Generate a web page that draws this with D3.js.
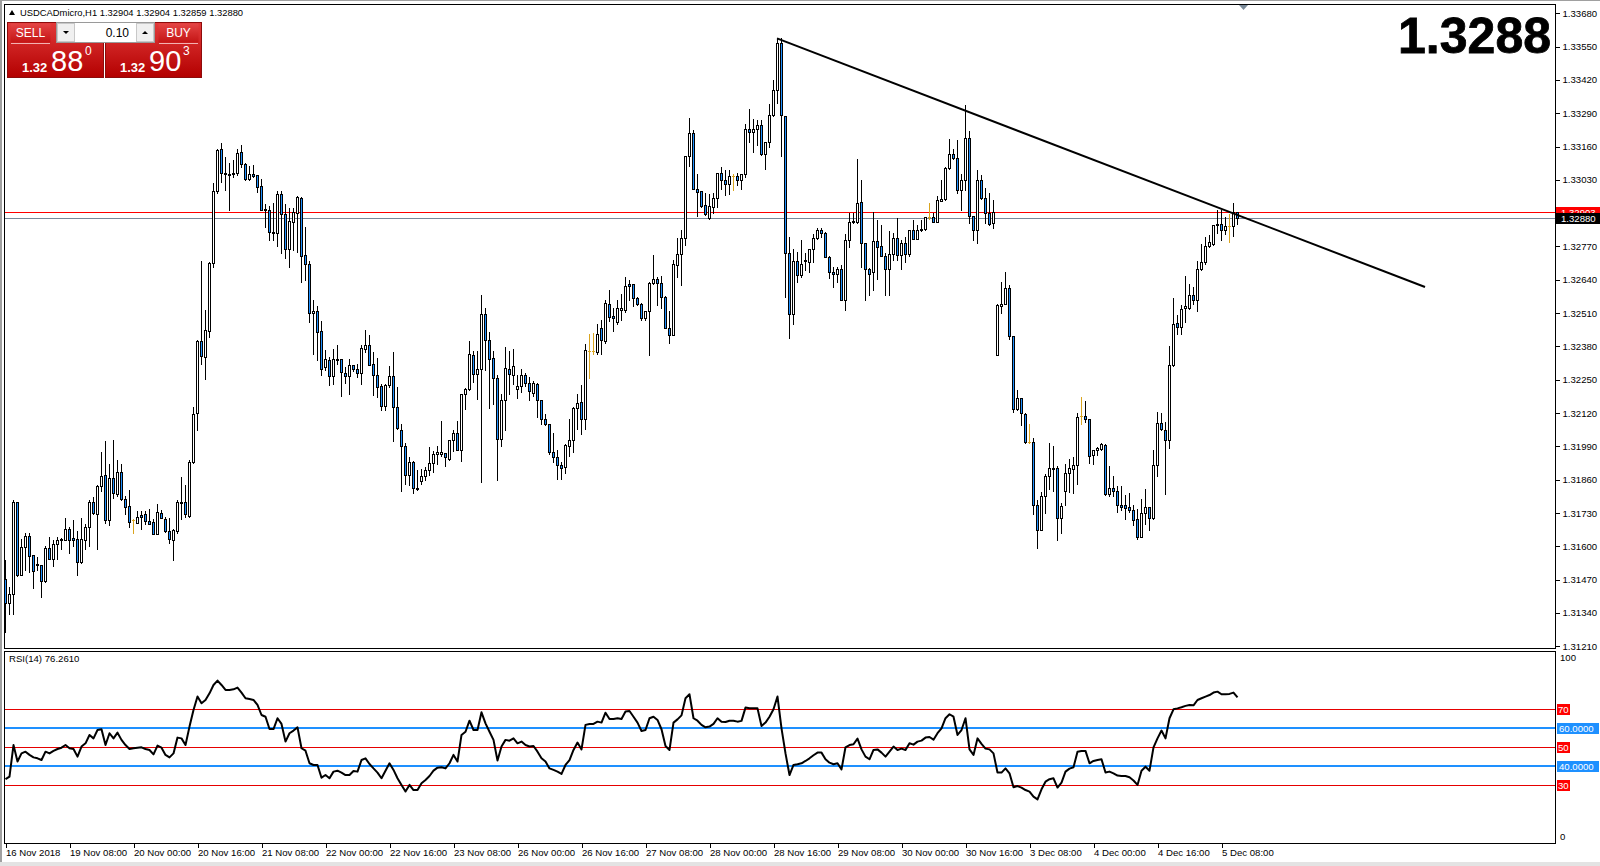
<!DOCTYPE html>
<html><head><meta charset="utf-8">
<script src="https://cdnjs.cloudflare.com/ajax/libs/d3/7.8.5/d3.min.js"></script>
<style>
html,body{margin:0;padding:0;background:#fff;overflow:hidden;}
svg{display:block;font-family:"Liberation Sans",Arial,sans-serif;}
</style></head><body>
<svg id="c" width="1600" height="866"></svg>
<script>
// ---------------- DATA ----------------
const symbolLabel = "USDCADmicro,H1";
const headerOHLC = ["1.32904","1.32904","1.32859","1.32880"];
const bidPrice = 1.32880, askPrice = 1.32903;
const bigPrice = "1.3288";
const sellQuote = ["1.32","88","0"], buyQuote = ["1.32","90","3"], lotSize = "0.10";
const priceTicks = [1.31210,1.31340,1.31470,1.31600,1.31730,1.31860,1.31990,1.32120,1.32250,1.32380,
  1.32510,1.32640,1.32770,1.32900,1.33030,1.33160,1.33290,1.33420,1.33550,1.33680];
const timeLabels = ["16 Nov 2018","19 Nov 08:00","20 Nov 00:00","20 Nov 16:00","21 Nov 08:00","22 Nov 00:00",
  "22 Nov 16:00","23 Nov 08:00","26 Nov 00:00","26 Nov 16:00","27 Nov 08:00","28 Nov 00:00","28 Nov 16:00",
  "29 Nov 08:00","30 Nov 00:00","30 Nov 16:00","3 Dec 08:00","4 Dec 00:00","4 Dec 16:00","5 Dec 08:00"];
const timeLabelBars = [0,16,32,48,64,80,96,112,128,144,160,176,192,208,224,240,256,272,288,304];

const open = [
1.31474,1.31379,1.31413,1.31773,1.31487,1.31598,1.31639,1.31565,1.31532,1.31526,
1.31465,1.31595,1.31552,1.31607,1.31626,1.31626,1.31669,1.31633,1.31630,1.31539,
1.31626,1.31676,1.31771,1.31724,1.31834,1.31877,1.31702,1.31868,1.31803,1.31889,
1.31784,1.31756,1.31702,1.31691,1.31721,1.31724,1.31700,1.31694,1.31646,1.31728,
1.31708,1.31659,1.31626,1.31659,1.31771,1.31771,1.31720,1.31929,1.32121,1.32402,
1.32339,1.32441,1.32704,1.32986,1.33150,1.33057,1.33050,1.33051,1.33055,1.33137,
1.33091,1.33033,1.33051,1.33048,1.33005,1.32914,1.32914,1.32821,1.32821,1.32973,
1.32895,1.32762,1.32866,1.32899,1.32961,1.32736,1.32700,1.32512,1.32520,1.32439,
1.32298,1.32326,1.32265,1.32329,1.32329,1.32278,1.32265,1.32306,1.32291,1.32278,
1.32369,1.32387,1.32313,1.32270,1.32225,1.32148,1.32231,1.32264,1.32144,1.32053,
1.31991,1.31877,1.31927,1.31829,1.31855,1.31874,1.31899,1.31925,1.31961,1.31959,
1.31964,1.31942,1.32013,1.32043,1.31977,1.32193,1.32213,1.32345,1.32274,1.32291,
1.32505,1.32406,1.32336,1.32258,1.32020,1.32172,1.32293,1.32270,1.32215,1.32224,
1.32267,1.32236,1.32200,1.32235,1.32170,1.32098,1.32079,1.31968,1.31948,1.31916,
1.31909,1.31991,1.32013,1.32141,1.32163,1.32098,1.32362,1.32361,1.32358,1.32453,
1.32400,1.32547,1.32497,1.32476,1.32521,1.32521,1.32623,1.32623,1.32567,1.32547,
1.32489,1.32517,1.32629,1.32645,1.32629,1.32573,1.32452,1.32426,1.32699,1.32740,
1.32805,1.33122,1.33211,1.32993,1.32986,1.32931,1.32882,1.32924,1.32961,1.33058,
1.33031,1.33013,1.33044,1.33044,1.33031,1.33052,1.33228,1.33215,1.33230,1.33246,
1.33129,1.33176,1.33285,1.33382,1.33566,1.33280,1.32746,1.32508,1.32712,1.32660,
1.32714,1.32710,1.32762,1.32805,1.32836,1.32823,1.32730,1.32671,1.32661,1.32684,
1.32563,1.32795,1.32865,1.32866,1.32942,1.32782,1.32684,1.32671,1.32791,1.32771,
1.32733,1.32684,1.32740,1.32805,1.32736,1.32785,1.32742,1.32834,1.32798,1.32834,
1.32840,1.32886,1.32886,1.32866,1.32948,1.32957,1.33078,1.33129,1.33117,1.32992,
1.33029,1.33194,1.32890,1.32834,1.33029,1.32961,1.32901,1.32860,1.32345,1.32536,
1.32547,1.32609,1.32420,1.32137,1.32180,1.32117,1.32007,1.32007,1.31760,1.31665,
1.31795,1.31873,1.31907,1.31907,1.31711,1.31816,1.31887,1.31903,1.31916,1.32107,
1.32107,1.32098,1.31957,1.31977,1.31981,1.31996,1.31803,1.31829,1.31816,1.31763,
1.31760,1.31753,1.31743,1.31708,1.31636,1.31730,1.31753,1.31710,1.31918,1.32081,
1.32055,1.32016,1.32306,1.32471,1.32456,1.32531,1.32531,1.32582,1.32562,1.32683,
1.32709,1.32770,1.32781,1.32852,1.32859,1.32835,1.32848,1.32848,1.32904];
const high = [
1.31546,1.31441,1.31780,1.31773,1.31630,1.31650,1.31650,1.31565,1.31559,1.31526,
1.31600,1.31637,1.31624,1.31637,1.31634,1.31712,1.31676,1.31704,1.31659,1.31712,
1.31685,1.31780,1.31793,1.31838,1.31968,1.32010,1.31923,1.32014,1.31936,1.31923,
1.31795,1.31821,1.31706,1.31738,1.31738,1.31738,1.31747,1.31707,1.31764,1.31743,
1.31715,1.31712,1.31669,1.31782,1.31871,1.31838,1.31938,1.32144,1.32404,1.32713,
1.32521,1.32710,1.33018,1.33150,1.33172,1.33120,1.33094,1.33107,1.33152,1.33165,
1.33094,1.33083,1.33087,1.33048,1.33035,1.32935,1.32927,1.32938,1.32986,1.32986,
1.32935,1.32922,1.32922,1.32966,1.32964,1.32847,1.32713,1.32563,1.32537,1.32479,
1.32365,1.32339,1.32368,1.32387,1.32329,1.32298,1.32329,1.32309,1.32313,1.32385,
1.32443,1.32424,1.32359,1.32333,1.32235,1.32235,1.32303,1.32359,1.32222,1.32079,
1.32004,1.31949,1.31933,1.31899,1.31900,1.31909,1.31988,1.31971,1.31990,1.32088,
1.31964,1.32013,1.32053,1.32088,1.32196,1.32218,1.32400,1.32362,1.32362,1.32579,
1.32531,1.32436,1.32362,1.32267,1.32196,1.32378,1.32361,1.32369,1.32267,1.32291,
1.32276,1.32261,1.32245,1.32239,1.32170,1.32118,1.32079,1.32043,1.31974,1.31929,
1.32000,1.32098,1.32144,1.32196,1.32231,1.32388,1.32430,1.32434,1.32469,1.32482,
1.32560,1.32602,1.32531,1.32560,1.32584,1.32649,1.32641,1.32623,1.32571,1.32550,
1.32517,1.32632,1.32736,1.32651,1.32654,1.32576,1.32517,1.32719,1.32805,1.32833,
1.33122,1.33273,1.33226,1.33052,1.32986,1.32978,1.32973,1.32977,1.33058,1.33081,
1.33068,1.33068,1.33052,1.33055,1.33052,1.33247,1.33308,1.33269,1.33265,1.33263,
1.33176,1.33325,1.33419,1.33581,1.33585,1.33280,1.32807,1.32762,1.32749,1.32797,
1.32745,1.32762,1.32818,1.32843,1.32843,1.32827,1.32733,1.32688,1.32690,1.32697,
1.32818,1.32899,1.32899,1.33113,1.33031,1.32782,1.32687,1.32903,1.32875,1.32853,
1.32745,1.32830,1.32824,1.32883,1.32795,1.32808,1.32836,1.32873,1.32853,1.32873,
1.32886,1.32938,1.32899,1.32966,1.33029,1.33081,1.33191,1.33152,1.33187,1.33051,
1.33321,1.33221,1.32890,1.33068,1.33048,1.32999,1.32977,1.32953,1.32547,1.32631,
1.32670,1.32621,1.32420,1.32211,1.32180,1.32120,1.32076,1.32024,1.31782,1.31812,
1.31883,1.32003,1.31990,1.31912,1.31770,1.31920,1.31942,1.31948,1.32120,1.32182,
1.32167,1.32098,1.31977,1.31988,1.32004,1.32000,1.31912,1.31873,1.31835,1.31834,
1.31799,1.31808,1.31760,1.31747,1.31786,1.31825,1.31753,1.31974,1.32124,1.32120,
1.32085,1.32380,1.32570,1.32501,1.32540,1.32653,1.32625,1.32612,1.32713,1.32781,
1.32807,1.32813,1.32852,1.32911,1.32911,1.32885,1.32895,1.32940,1.32904];
const low = [
1.31265,1.31337,1.31337,1.31483,1.31487,1.31507,1.31500,1.31438,1.31507,1.31402,
1.31461,1.31552,1.31522,1.31552,1.31591,1.31626,1.31574,1.31600,1.31487,1.31535,
1.31591,1.31600,1.31724,1.31590,1.31816,1.31689,1.31683,1.31789,1.31795,1.31780,
1.31725,1.31676,1.31652,1.31691,1.31669,1.31685,1.31685,1.31646,1.31646,1.31711,
1.31656,1.31613,1.31548,1.31652,1.31708,1.31715,1.31715,1.31925,1.32053,1.32313,
1.32251,1.32417,1.32691,1.32977,1.33020,1.32990,1.32912,1.33042,1.33048,1.33081,
1.33029,1.33029,1.33042,1.32983,1.32912,1.32847,1.32797,1.32795,1.32771,1.32743,
1.32726,1.32691,1.32756,1.32749,1.32632,1.32639,1.32476,1.32352,1.32326,1.32270,
1.32287,1.32229,1.32233,1.32313,1.32187,1.32239,1.32196,1.32285,1.32261,1.32235,
1.32359,1.32307,1.32190,1.32183,1.32131,1.32131,1.32222,1.32011,1.32057,1.31816,
1.31842,1.31838,1.31806,1.31821,1.31842,1.31860,1.31877,1.31890,1.31920,1.31952,
1.31913,1.31935,1.31972,1.31977,1.31933,1.32137,1.32209,1.32241,1.32176,1.31851,
1.32287,1.32141,1.32157,1.31857,1.31991,1.32055,1.32193,1.32232,1.32180,1.32202,
1.32224,1.32172,1.32185,1.32105,1.32076,1.32072,1.31961,1.31929,1.31864,1.31864,
1.31886,1.31952,1.31968,1.32059,1.32040,1.32059,1.32258,1.32349,1.32352,1.32349,
1.32395,1.32479,1.32440,1.32469,1.32482,1.32515,1.32563,1.32537,1.32541,1.32485,
1.32482,1.32346,1.32625,1.32541,1.32528,1.32450,1.32394,1.32424,1.32651,1.32619,
1.32775,1.33083,1.32993,1.32889,1.32924,1.32892,1.32879,1.32901,1.32924,1.32996,
1.32970,1.32976,1.32990,1.33009,1.32996,1.33042,1.33178,1.33139,1.33165,1.33127,
1.33074,1.33159,1.33278,1.33328,1.33124,1.32573,1.32411,1.32469,1.32632,1.32651,
1.32677,1.32671,1.32710,1.32800,1.32808,1.32730,1.32648,1.32612,1.32632,1.32563,
1.32524,1.32766,1.32860,1.32860,1.32688,1.32560,1.32580,1.32599,1.32645,1.32733,
1.32580,1.32580,1.32716,1.32716,1.32684,1.32710,1.32732,1.32798,1.32798,1.32830,
1.32834,1.32879,1.32866,1.32866,1.32946,1.32953,1.33074,1.33113,1.32977,1.32912,
1.32990,1.32862,1.32795,1.32782,1.32957,1.32862,1.32852,1.32843,1.32345,1.32510,
1.32545,1.32410,1.32124,1.32133,1.32072,1.32004,1.32004,1.31724,1.31594,1.31665,
1.31730,1.31825,1.31815,1.31626,1.31652,1.31760,1.31812,1.31808,1.31844,1.32078,
1.32085,1.31925,1.31922,1.31957,1.31977,1.31799,1.31795,1.31795,1.31734,1.31743,
1.31708,1.31733,1.31682,1.31629,1.31636,1.31685,1.31665,1.31707,1.31873,1.32052,
1.31804,1.31985,1.32302,1.32427,1.32430,1.32475,1.32527,1.32547,1.32518,1.32679,
1.32702,1.32766,1.32777,1.32822,1.32796,1.32820,1.32787,1.32811,1.32859];
const close = [
1.31379,1.31413,1.31773,1.31487,1.31598,1.31639,1.31562,1.31504,1.31528,1.31465,
1.31595,1.31552,1.31607,1.31626,1.31628,1.31669,1.31626,1.31626,1.31539,1.31630,
1.31676,1.31771,1.31728,1.31834,1.31873,1.31702,1.31868,1.31806,1.31889,1.31786,
1.31754,1.31695,1.31702,1.31715,1.31716,1.31700,1.31687,1.31646,1.31732,1.31711,
1.31659,1.31630,1.31663,1.31771,1.31773,1.31724,1.31929,1.32118,1.32402,1.32343,
1.32443,1.32706,1.32986,1.33146,1.33055,1.33051,1.33054,1.33057,1.33133,1.33090,
1.33033,1.33051,1.33046,1.33003,1.32914,1.32916,1.32825,1.32827,1.32973,1.32895,
1.32762,1.32869,1.32905,1.32964,1.32734,1.32700,1.32511,1.32520,1.32437,1.32290,
1.32329,1.32265,1.32329,1.32331,1.32281,1.32265,1.32306,1.32290,1.32278,1.32372,
1.32387,1.32309,1.32270,1.32220,1.32148,1.32231,1.32264,1.32144,1.32060,1.31991,
1.31877,1.31927,1.31826,1.31824,1.31874,1.31899,1.31925,1.31961,1.31969,1.31967,
1.31948,1.32013,1.32043,1.31977,1.32193,1.32213,1.32349,1.32274,1.32291,1.32505,
1.32406,1.32332,1.32258,1.32020,1.32170,1.32297,1.32274,1.32302,1.32224,1.32267,
1.32239,1.32205,1.32236,1.32170,1.32098,1.32079,1.31968,1.31948,1.31919,1.31907,
1.31994,1.32016,1.32141,1.32161,1.32098,1.32365,1.32362,1.32361,1.32430,1.32404,
1.32551,1.32495,1.32491,1.32528,1.32528,1.32615,1.32616,1.32567,1.32547,1.32489,
1.32517,1.32629,1.32645,1.32629,1.32573,1.32452,1.32426,1.32703,1.32740,1.32805,
1.33122,1.33211,1.32995,1.32983,1.32928,1.32898,1.32927,1.32961,1.33058,1.33031,
1.33013,1.33044,1.33044,1.33031,1.33052,1.33228,1.33215,1.33230,1.33246,1.33129,
1.33176,1.33285,1.33382,1.33566,1.33282,1.32746,1.32508,1.32712,1.32660,1.32703,
1.32719,1.32762,1.32805,1.32836,1.32823,1.32730,1.32671,1.32661,1.32681,1.32563,
1.32795,1.32865,1.32869,1.32938,1.32782,1.32684,1.32661,1.32791,1.32769,1.32733,
1.32684,1.32742,1.32805,1.32736,1.32785,1.32742,1.32834,1.32798,1.32834,1.32840,
1.32886,1.32886,1.32866,1.32951,1.32957,1.33078,1.33129,1.33117,1.32992,1.33029,
1.33194,1.32890,1.32834,1.33029,1.32961,1.32899,1.32856,1.32903,1.32540,1.32547,
1.32609,1.32420,1.32137,1.32180,1.32120,1.32007,1.32007,1.31763,1.31665,1.31795,
1.31873,1.31907,1.31905,1.31711,1.31756,1.31887,1.31907,1.31916,1.32104,1.32107,
1.32096,1.31951,1.31977,1.31985,1.31998,1.31803,1.31829,1.31816,1.31762,1.31753,
1.31751,1.31743,1.31704,1.31636,1.31730,1.31753,1.31710,1.31918,1.32081,1.32059,
1.32013,1.32306,1.32469,1.32456,1.32527,1.32536,1.32582,1.32562,1.32683,1.32709,
1.32770,1.32787,1.32852,1.32859,1.32835,1.32848,1.32848,1.32904,1.32880];

const rsi = [
33.2,34.6,51.2,42.5,46.8,47.7,46.0,44.7,44.2,43.3,
47.7,46.8,48.1,49.1,49.8,51.2,49.5,49.1,45.1,50.4,
52.1,56.5,54.7,59.1,59.5,51.2,57.4,54.7,57.7,53.9,
51.2,49.1,49.5,49.8,50.0,49.1,48.6,46.3,50.9,49.8,
46.0,44.7,46.8,55.1,54.7,51.2,60.9,69.6,76.7,73.2,
74.9,78.4,82.8,85.1,82.8,80.2,80.2,80.5,81.4,78.8,
75.8,75.4,74.9,72.3,67.0,66.1,59.6,59.6,65.3,62.3,
53.0,57.4,58.8,60.5,49.5,48.2,41.6,40.7,40.7,34.0,
35.4,33.7,37.2,37.7,36.7,35.4,35.4,37.5,37.2,43.3,
44.2,41.2,38.9,36.7,33.7,37.7,41.6,38.1,33.7,30.2,
26.7,30.2,27.5,27.5,31.1,32.8,34.9,37.7,39.3,39.5,
38.9,41.6,46.0,42.5,56.5,58.2,64.0,59.1,59.1,68.4,
62.6,58.2,53.9,43.0,50.4,53.9,53.5,54.7,52.1,53.0,
51.2,50.4,50.7,47.7,44.2,42.5,38.9,38.1,37.2,36.0,
40.7,43.3,48.6,52.5,48.9,61.8,62.3,62.3,63.5,63.0,
68.2,64.9,64.9,65.3,64.9,68.8,69.1,66.1,63.0,58.6,
59.1,65.3,66.1,64.4,59.5,50.7,48.6,63.0,64.7,66.8,
75.8,77.9,65.3,64.0,61.8,60.5,60.9,62.3,65.3,63.5,
63.3,64.0,64.0,63.5,63.9,70.9,70.5,70.5,70.5,61.2,
63.0,66.1,70.0,76.7,60.0,46.8,35.4,40.7,41.1,41.6,
42.8,44.2,45.8,47.2,47.2,43.7,41.9,41.1,41.6,38.4,
50.0,51.2,51.6,54.6,48.9,45.1,43.7,48.6,48.9,47.2,
45.1,47.7,50.4,48.6,49.3,48.6,52.1,51.4,53.0,53.5,
55.1,55.4,54.0,57.4,60.0,65.3,67.4,66.1,56.5,59.1,
65.3,48.9,46.0,54.7,51.8,49.3,48.9,46.8,36.7,36.7,
38.9,36.3,29.0,29.6,28.8,27.5,26.7,24.0,22.6,27.9,
31.9,33.2,33.7,28.8,31.4,37.2,38.8,39.5,47.7,48.1,
48.1,41.6,42.8,43.3,43.7,36.7,37.2,36.3,35.1,34.9,
34.9,34.2,32.5,30.2,37.7,39.8,37.7,50.0,54.7,58.8,
54.7,65.3,70.0,70.5,71.1,71.8,72.3,72.1,74.9,75.8,
76.7,77.5,78.8,79.3,77.9,77.9,78.1,78.8,76.261];
const rsiLabel = "RSI(14) 76.2610";
const rsiRedLevels = [70,50,30];
const rsiBlueLevels = [60,40];
const trendBars = [193,355];
const trendPrices = [1.33582,1.32612];

// ---------------- LAYOUT ----------------
const L=4, R=1555, PT=4, PB=648, RT=651, RB=843;
const BULL="#ffffff", BEAR="#1e90ff", DOJI="#daa520", RED="#e60000", BLUE="#1e90ff";
const FS=9.6;
const svg = d3.select("#c");

const x = d3.scaleLinear().domain([0,308]).range([5,1237]);
const y = d3.scaleLinear().domain([1.31210,1.33680]).range([646.2,13.3]);
const yr = d3.scaleLinear().domain([0,100]).range([842.3,652.3]);

const defs = svg.append("defs");
defs.append("clipPath").attr("id","clipP").append("rect").attr("x",L+1).attr("y",PT+1).attr("width",R-L-1).attr("height",PB-PT-1);
defs.append("clipPath").attr("id","clipR").append("rect").attr("x",L+1).attr("y",RT+1).attr("width",R-L-1).attr("height",RB-RT-1);
const grad = (id,c1,c2)=>{const g=defs.append("linearGradient").attr("id",id).attr("x1",0).attr("y1",0).attr("x2",0).attr("y2",1);
  g.append("stop").attr("offset","0%").attr("stop-color",c1); g.append("stop").attr("offset","100%").attr("stop-color",c2);};
grad("gRed","#e23a3a","#b30000");
grad("gBtn","#e44545","#c41414");

// window frame
svg.append("rect").attr("x",0).attr("y",0).attr("width",1600).attr("height",866).attr("fill","#fff");
svg.append("rect").attr("x",0).attr("y",0).attr("width",2).attr("height",866).attr("fill","#a0a0a0");
svg.append("rect").attr("x",0).attr("y",0).attr("width",1600).attr("height",1).attr("fill","#a0a0a0");
svg.append("rect").attr("x",0).attr("y",862).attr("width",1600).attr("height",4).attr("fill","#e3e3e3");

// panels borders
const crisp = svg.append("g").attr("shape-rendering","crispEdges");
crisp.append("rect").attr("x",L+0.5).attr("y",PT+0.5).attr("width",R-L).attr("height",PB-PT).attr("fill","none").attr("stroke","#000");
crisp.append("rect").attr("x",L+0.5).attr("y",RT+0.5).attr("width",R-L).attr("height",RB-RT).attr("fill","none").attr("stroke","#000");

// bid / ask lines
crisp.append("line").attr("x1",L+1).attr("x2",R).attr("y1",Math.round(y(askPrice))+0.5).attr("y2",Math.round(y(askPrice))+0.5).attr("stroke","#ff0000");
crisp.append("line").attr("x1",L+1).attr("x2",R).attr("y1",Math.round(y(bidPrice))+0.5).attr("y2",Math.round(y(bidPrice))+0.5).attr("stroke","#778899");

// candles
const bars = close.map((c,i)=>({i,o:open[i],h:high[i],l:low[i],c}));
const cg = svg.append("g").attr("clip-path","url(#clipP)").attr("shape-rendering","crispEdges");
const cx = d=>Math.round(x(d.i));
cg.selectAll("line.wick").data(bars).join("line").attr("class","wick")
  .attr("x1",d=>cx(d)+0.5).attr("x2",d=>cx(d)+0.5)
  .attr("y1",d=>Math.round(y(Math.max(d.h,d.o,d.c))))
  .attr("y2",d=>Math.round(y(Math.min(d.l,d.o,d.c)))+1)
  .attr("stroke",d=>d.o===d.c?DOJI:"#000");
cg.selectAll("rect.body").data(bars.filter(d=>d.o!==d.c)).join("rect").attr("class","body")
  .attr("x",d=>cx(d)-0.5).attr("width",2)
  .attr("y",d=>Math.round(y(Math.max(d.o,d.c)))+0.5)
  .attr("height",d=>Math.max(1,Math.round(y(Math.min(d.o,d.c)))-Math.round(y(Math.max(d.o,d.c)))))
  .attr("fill",d=>d.c>d.o?BULL:BEAR).attr("stroke","#000");
cg.selectAll("line.doji").data(bars.filter(d=>d.o===d.c)).join("line").attr("class","doji")
  .attr("x1",d=>cx(d)-1).attr("x2",d=>cx(d)+2)
  .attr("y1",d=>Math.round(y(d.o))+0.5).attr("y2",d=>Math.round(y(d.o))+0.5)
  .attr("stroke",DOJI);

// trendline
svg.append("g").attr("clip-path","url(#clipP)").append("line")
  .attr("x1",x(trendBars[0])).attr("y1",y(trendPrices[0]))
  .attr("x2",x(trendBars[1])).attr("y2",y(trendPrices[1]))
  .attr("stroke","#000").attr("stroke-width",2);

// price axis (right)
const pa = svg.append("g").attr("transform",`translate(${R+0.5},0)`)
  .call(d3.axisRight(y).tickValues(priceTicks).tickFormat(d3.format(".5f")).tickSize(4).tickPadding(3));
pa.select(".domain").remove();
pa.selectAll("text").attr("font-size",FS).attr("font-family","Liberation Sans, Arial, sans-serif").attr("fill","#000");
pa.selectAll("line").attr("stroke","#000").attr("shape-rendering","crispEdges");

// ask / bid labels
const tag = (price,bg,txt)=>{const yy=Math.round(y(price));
  svg.append("rect").attr("x",R+1).attr("y",yy-5).attr("width",44).attr("height",11).attr("fill",bg);
  svg.append("text").attr("x",R+6).attr("y",yy+4).attr("font-size",FS).attr("fill","#fff").text(txt);};
tag(askPrice,"#ff0000",askPrice.toFixed(5));
tag(bidPrice,"#000",bidPrice.toFixed(5));

// big price
svg.append("text").attr("x",1551).attr("y",53).attr("text-anchor","end")
  .attr("font-size",50).attr("font-weight","bold").attr("stroke","#000").attr("stroke-width",0.8)
  .attr("fill","#000").text(bigPrice);

// shift marker
svg.append("path").attr("d","M1239,5 L1248,5 L1243.5,10 Z").attr("fill","#7a8a99");

// header
svg.append("path").attr("d","M9,15 L15,15 L12,10 Z").attr("fill","#000");
svg.append("text").attr("x",20).attr("y",16).attr("font-size",9.4).attr("fill","#000")
  .text(symbolLabel+"  "+headerOHLC.join(" "));

// trading panel
const tp = svg.append("g");
[[7,sellQuote,"SELL"],[105,buyQuote,"BUY"]].forEach(([px,q,lab],k)=>{
  tp.append("rect").attr("x",px+0.5).attr("y",22.5).attr("width",96).attr("height",55).attr("fill","url(#gRed)").attr("stroke","#8e0b0b");
  const bx = k===0? px+3 : px+53;
  tp.append("rect").attr("x",bx+0.5).attr("y",23.5).attr("width",40).attr("height",19).attr("fill","url(#gBtn)").attr("stroke","none");
  tp.append("line").attr("x1",bx+1).attr("x2",bx+40).attr("y1",43.5).attr("y2",43.5).attr("stroke","#f3b1b1");
  tp.append("text").attr("x",bx+20.5).attr("y",37).attr("text-anchor","middle").attr("font-size",12).attr("fill","#fff").text(lab);
  tp.append("text").attr("x",px+15).attr("y",72).attr("font-size",13).attr("font-weight","bold").attr("fill","#fff").text(q[0]);
  tp.append("text").attr("x",px+44).attr("y",71).attr("font-size",29).attr("fill","#fff").text(q[1]);
  tp.append("text").attr("x",px+78).attr("y",55).attr("font-size",12).attr("fill","#fff").text(q[2]);
});
tp.append("rect").attr("x",56.5).attr("y",22.5).attr("width",98).attr("height",20).attr("fill","#fff").attr("stroke","#9a9a9a");
tp.append("rect").attr("x",57.5).attr("y",23.5).attr("width",17).attr("height",18).attr("fill","#f0f0f0").attr("stroke","#c8c8c8");
tp.append("rect").attr("x",136.5).attr("y",23.5).attr("width",17).attr("height",18).attr("fill","#f0f0f0").attr("stroke","#c8c8c8");
tp.append("path").attr("d","M63,31 L69,31 L66,34 Z").attr("fill","#000");
tp.append("path").attr("d","M142,34 L148,34 L145,31 Z").attr("fill","#000");
tp.append("text").attr("x",129).attr("y",37).attr("text-anchor","end").attr("font-size",12).attr("fill","#000").text(lotSize);

// RSI panel
const rg = svg.append("g").attr("clip-path","url(#clipR)");
rg.selectAll("line.red").data(rsiRedLevels).join("line").attr("class","red")
  .attr("x1",L).attr("x2",R).attr("y1",d=>Math.round(yr(d))+0.5).attr("y2",d=>Math.round(yr(d))+0.5)
  .attr("stroke",RED).attr("shape-rendering","crispEdges");
rg.selectAll("line.blue").data(rsiBlueLevels).join("line").attr("class","blue")
  .attr("x1",L).attr("x2",R).attr("y1",d=>Math.round(yr(d))).attr("y2",d=>Math.round(yr(d)))
  .attr("stroke",BLUE).attr("stroke-width",2).attr("shape-rendering","crispEdges");
rg.append("path").datum(rsi)
  .attr("d",d3.line().x((d,i)=>x(i)+0.5).y(d=>yr(d)))
  .attr("fill","none").attr("stroke","#000").attr("stroke-width",2).attr("stroke-linejoin","round");
svg.append("text").attr("x",9).attr("y",662).attr("font-size",FS).attr("fill","#000").text(rsiLabel);

// RSI right labels
svg.append("text").attr("x",R+5).attr("y",yr(100)+9).attr("font-size",FS).attr("fill","#000").text("100");
svg.append("text").attr("x",R+5).attr("y",yr(0)-2).attr("font-size",FS).attr("fill","#000").text("0");
rsiRedLevels.forEach(v=>{const yy=Math.round(yr(v));
  svg.append("rect").attr("x",R+2).attr("y",yy-5).attr("width",13).attr("height",11).attr("fill","#ff0000");
  svg.append("text").attr("x",R+3).attr("y",yy+4).attr("font-size",FS).attr("fill","#fff").text(String(v));});
rsiBlueLevels.forEach(v=>{const yy=Math.round(yr(v));
  svg.append("rect").attr("x",R+2).attr("y",yy-5).attr("width",42).attr("height",11).attr("fill",BLUE);
  svg.append("text").attr("x",R+4).attr("y",yy+4).attr("font-size",FS).attr("fill","#fff").text(v.toFixed(4));});

// time axis
const ta = svg.append("g").attr("transform",`translate(0.5,${RB+0.5})`)
  .call(d3.axisBottom(x).tickValues(timeLabelBars).tickFormat((d,i)=>timeLabels[i]).tickSize(4).tickPadding(2));
ta.select(".domain").remove();
ta.selectAll("line").attr("stroke","#000").attr("shape-rendering","crispEdges");
ta.selectAll("text").attr("text-anchor","start").attr("dx",0).attr("font-size",FS)
  .attr("font-family","Liberation Sans, Arial, sans-serif").attr("fill","#000");
</script>
</body></html>
